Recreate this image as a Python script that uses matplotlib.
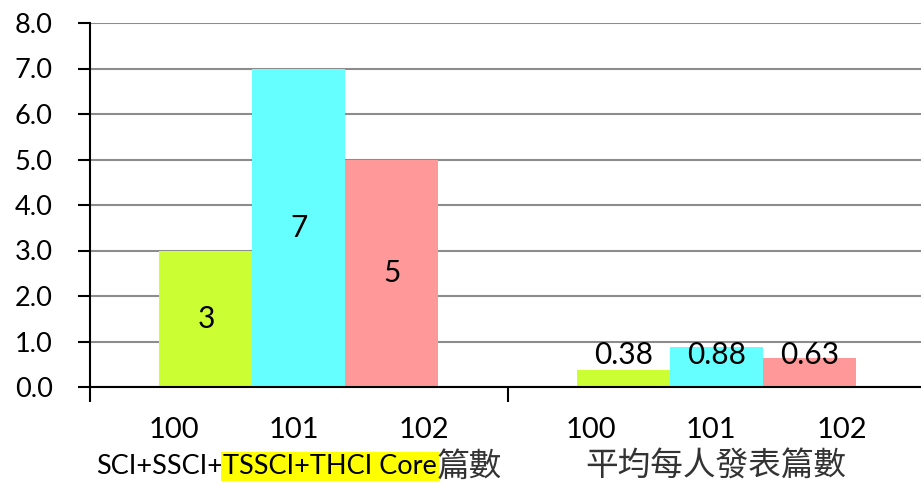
import matplotlib
matplotlib.use('Agg')
import matplotlib.pyplot as plt
import numpy as np

# Data
groups = ['SCI+SSCI+TSSCI+THCI Core篇數', '平均每人發表篇數']
years = ['100', '101', '102']
paper_counts = [3, 7, 5]
avg_per_person = [0.38, 0.88, 0.63]
value_texts = [['3', '7', '5'], ['0.38', '0.88', '0.63']]
colors = ['#CCFF33', '#66FFFF', '#FF9999']

FONT = ['Lato', 'Noto Sans CJK TC', 'DejaVu Sans']
plt.rcParams['font.family'] = FONT

W, H = 921, 483
fig = plt.figure(figsize=(W / 100, H / 100), dpi=100)
left, right, top, bottom = 90, 925, 23, 387
ax = fig.add_axes([left / W, 1 - bottom / H, (right - left) / W, (bottom - top) / H])

bar_w = 93 / 418
series = [paper_counts, avg_per_person]
for g, vals in enumerate(series):
    center = g + 0.5
    for i, v in enumerate(vals):
        x = center + (i - 1) * bar_w
        ax.bar(x, v, width=bar_w, color=colors[i], zorder=2, linewidth=0)
        ax.text(x, max(v / 2, 0.7), value_texts[g][i], ha='center', va='center',
                fontsize=21.5, zorder=3)

ax.set_xlim(0, 2)
ax.set_ylim(0, 8)
ax.set_yticks(np.arange(0, 9, 1))
ax.set_yticklabels([f'{v:.1f}' for v in range(9)], fontsize=19.5)
ax.yaxis.grid(True, color='#8c8c8c', linewidth=1.5, zorder=0)
ax.set_axisbelow(True)

ax.set_xticks([0, 1, 2])
ax.set_xticklabels([])
ax.tick_params(axis='x', direction='out', length=11, width=1.5, color='black')
ax.tick_params(axis='y', direction='out', length=9, width=1.5, color='black', pad=18)

for s in ['top', 'right']:
    ax.spines[s].set_visible(False)
for s in ['left', 'bottom']:
    ax.spines[s].set_linewidth(1.5)

# year labels under each bar (Excel spreads them a bit wider than the bars)
year_offsets = [-0.3, -0.012, 0.3]
for g in range(2):
    for i, yr in enumerate(years):
        ax.text(g + 0.5 + year_offsets[i], -0.95, yr, ha='center', va='center',
                fontsize=21)

# group labels: latin text a bit smaller than the CJK characters
LATIN_SIZE, CJK_SIZE = 19.5, 23.5
CJK_FONT = ['Noto Sans CJK TC', 'DejaVu Sans']
ax.text(1.5, -1.75, groups[1], ha='center', va='center', fontsize=CJK_SIZE,
        family=CJK_FONT, fontweight='light', color='#333333')

# left group label with yellow highlight on part of it
parts = ['SCI+SSCI+', 'TSSCI+THCI Core', '篇數']
sizes = [LATIN_SIZE, LATIN_SIZE, CJK_SIZE]
renderer = fig.canvas.get_renderer()
styles = [dict(), dict(), dict(family=CJK_FONT, fontweight='light', color='#333333')]
tmp = [fig.text(0, 0, p, fontsize=s, **st) for p, s, st in zip(parts, sizes, styles)]
widths = [t.get_window_extent(renderer).width for t in tmp]
for t in tmp:
    t.remove()
cx = ax.transData.transform((0.5, 0))[0]
cy = ax.transData.transform((0, -1.75))[1]
x0 = cx - sum(widths) / 2
for i, p in enumerate(parts):
    kw = dict(styles[i])
    if i == 1:
        kw['bbox'] = dict(facecolor='#FFFF00', edgecolor='none', pad=1.5)
    fig.text(x0 / W, cy / H, p, ha='left', va='center', fontsize=sizes[i], **kw)
    x0 += widths[i]

fig.savefig('out.png', dpi=100)
